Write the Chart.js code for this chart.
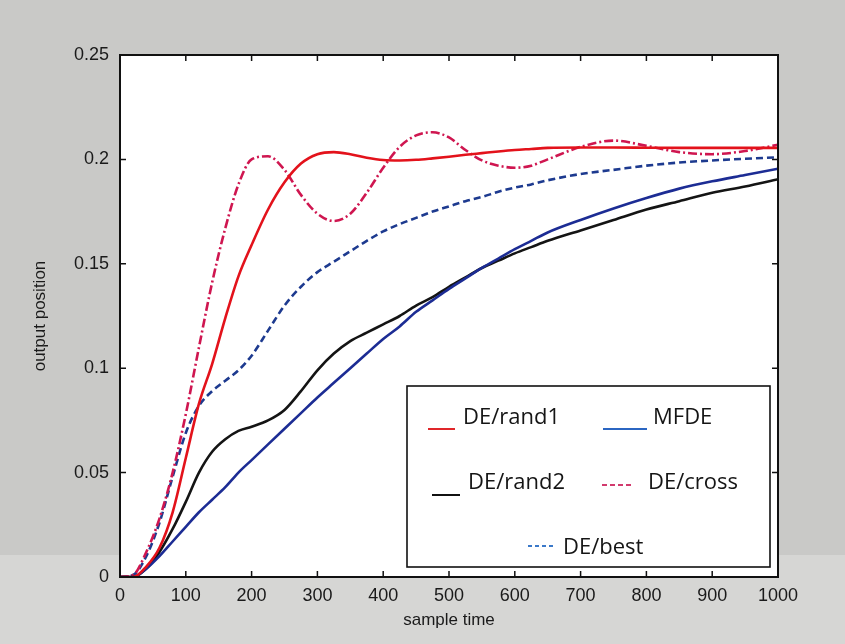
<!DOCTYPE html>
<html>
<head>
<meta charset="utf-8">
<script src="https://cdn.jsdelivr.net/npm/chart.js@4.4.1/dist/chart.umd.min.js"></script>
<style>
  html, body { margin: 0; padding: 0; background: #c9c9c7; }
  #wrap { width: 845px; height: 644px; position: relative; }
</style>
</head>
<body>
<div id="wrap"><canvas id="chart"></canvas></div>
<script>
// sample grid shared by all curves
const sampleTime = [0, 20, 40, 60, 80, 100, 120, 140, 160, 180, 200, 225, 250, 275, 300, 325, 350, 375, 400, 425,
  450, 475, 500, 525, 550, 575, 600, 625, 650, 700, 750, 800, 850, 900, 950, 1000];

const deRand1 = [0, 0, 0.005, 0.014, 0.031, 0.057, 0.083, 0.102, 0.124, 0.144, 0.159, 0.176, 0.189, 0.198, 0.2025, 0.2035,
  0.2025, 0.2008, 0.1997, 0.1995, 0.1998, 0.2005, 0.2013, 0.2022, 0.203, 0.2038, 0.2045, 0.205, 0.2055, 0.2057,
  0.2057, 0.2056, 0.2055, 0.2055, 0.2055, 0.2055];

const mfde = [0, 0, 0.004, 0.01, 0.017, 0.024, 0.031, 0.037, 0.043, 0.05, 0.056, 0.0635, 0.071, 0.0785, 0.086, 0.093,
  0.1, 0.107, 0.114, 0.12, 0.127, 0.1325, 0.138, 0.143, 0.148, 0.1525, 0.157, 0.161, 0.165, 0.171, 0.1765, 0.1815,
  0.186, 0.1895, 0.1925, 0.1955];

const deRand2 = [0, 0, 0.004, 0.012, 0.023, 0.036, 0.05, 0.06, 0.066, 0.07, 0.072, 0.075, 0.08, 0.089, 0.099, 0.107,
  0.113, 0.117, 0.121, 0.125, 0.13, 0.134, 0.139, 0.1435, 0.148, 0.1515, 0.155, 0.158, 0.161, 0.166, 0.171, 0.176,
  0.18, 0.184, 0.187, 0.1905];

const deCross = [0, 0.001, 0.012, 0.028, 0.05, 0.078, 0.11, 0.141, 0.167, 0.188, 0.2, 0.2015, 0.195, 0.183, 0.174, 0.1705,
  0.174, 0.184, 0.196, 0.206, 0.2115, 0.213, 0.2105, 0.2045, 0.1995, 0.197, 0.196, 0.197, 0.2, 0.206, 0.209, 0.2065,
  0.2035, 0.2025, 0.204, 0.207];

const deBest = [0, 0.001, 0.01, 0.026, 0.048, 0.069, 0.082, 0.089, 0.094, 0.099, 0.106, 0.118, 0.13, 0.139, 0.146, 0.151,
  0.156, 0.161, 0.1655, 0.169, 0.172, 0.175, 0.1775, 0.18, 0.182, 0.1845, 0.1865, 0.188, 0.19, 0.193, 0.195, 0.197,
  0.1985, 0.1995, 0.2003, 0.201];

const xTicks = [0, 100, 200, 300, 400, 500, 600, 700, 800, 900, 1000];
const yTicks = [0, 0.05, 0.1, 0.15, 0.2, 0.25];

const toPoints = ys => sampleTime.map((t, i) => ({ x: t, y: ys[i] }));

function line(label, ys, color, dash) {
  return {
    label,
    data: toPoints(ys),
    borderColor: color,
    borderWidth: 2.6,
    borderDash: dash,
    pointRadius: 0,
    fill: false,
    cubicInterpolationMode: 'monotone'
  };
}

// grey paper behind, white plot area
const paper = {
  id: 'paper',
  beforeDraw(chart) {
    const { ctx, chartArea: a } = chart;
    ctx.save();
    ctx.fillStyle = '#c9c9c7';
    ctx.fillRect(0, 0, chart.width, chart.height);
    ctx.fillStyle = '#d6d6d4';
    ctx.fillRect(0, 555, chart.width, chart.height - 555);
    ctx.fillStyle = '#ffffff';
    ctx.fillRect(a.left, a.top, a.right - a.left, a.bottom - a.top);
    ctx.restore();
  }
};

// matlab style frame with inward ticks on all four sides
const frame = {
  id: 'frame',
  afterDatasetsDraw(chart) {
    const { ctx, chartArea: a, scales } = chart;
    const len = 6;
    ctx.save();
    ctx.strokeStyle = '#111';
    ctx.lineWidth = 1.5;
    ctx.beginPath();
    xTicks.forEach(v => {
      const px = scales.x.getPixelForValue(v);
      ctx.moveTo(px, a.bottom); ctx.lineTo(px, a.bottom - len);
      ctx.moveTo(px, a.top); ctx.lineTo(px, a.top + len);
    });
    yTicks.forEach(v => {
      const py = scales.y.getPixelForValue(v);
      ctx.moveTo(a.left, py); ctx.lineTo(a.left + len, py);
      ctx.moveTo(a.right, py); ctx.lineTo(a.right - len, py);
    });
    ctx.stroke();
    ctx.lineWidth = 2;
    ctx.strokeRect(a.left, a.top, a.right - a.left, a.bottom - a.top);
    ctx.restore();
  }
};

// boxed legend inside the plot, like the figure
const legendBox = {
  id: 'legendBox',
  afterDraw(chart) {
    const { ctx } = chart;
    const items = [
      { text: 'DE/rand1', color: '#e0262a', dash: [], x1: 428, x2: 455, ly: 429, tx: 463, ty: 418 },
      { text: 'MFDE', color: '#2b66c2', dash: [], x1: 603, x2: 647, ly: 429, tx: 653, ty: 418 },
      { text: 'DE/rand2', color: '#111', dash: [], x1: 432, x2: 460, ly: 495, tx: 468, ty: 483 },
      { text: 'DE/cross', color: '#d23a6e', dash: [5, 3], x1: 602, x2: 633, ly: 485, tx: 648, ty: 483 },
      { text: 'DE/best', color: '#3b79c9', dash: [4, 3], x1: 528, x2: 553, ly: 546, tx: 563, ty: 548 }
    ];
    ctx.save();
    ctx.fillStyle = '#fff';
    ctx.fillRect(407, 386, 363, 181);
    ctx.strokeStyle = '#111';
    ctx.lineWidth = 1.6;
    ctx.strokeRect(407, 386, 363, 181);
    ctx.font = '22px "Open Sans", sans-serif';
    ctx.textBaseline = 'middle';
    ctx.textAlign = 'left';
    items.forEach(it => {
      ctx.strokeStyle = it.color;
      ctx.lineWidth = 2;
      ctx.setLineDash(it.dash);
      ctx.beginPath();
      ctx.moveTo(it.x1, it.ly);
      ctx.lineTo(it.x2, it.ly);
      ctx.stroke();
      ctx.setLineDash([]);
      ctx.fillStyle = '#151515';
      ctx.fillText(it.text, it.tx, it.ty);
    });
    ctx.restore();
  }
};

new Chart(document.getElementById('chart'), {
  type: 'line',
  data: {
    datasets: [
      line('DE/rand1', deRand1, '#e3121b', []),
      line('MFDE', mfde, '#1c2c94', []),
      line('DE/rand2', deRand2, '#141414', []),
      line('DE/cross', deCross, '#cf1650', [9, 3, 2, 3]),
      line('DE/best', deBest, '#1d3a8f', [7, 4])
    ]
  },
  options: {
    responsive: true,
    maintainAspectRatio: false,
    animation: false,
    layout: { padding: { left: 0, right: 67, top: 55, bottom: 0 } },
    plugins: { legend: { display: false }, tooltip: { enabled: false } },
    scales: {
      x: {
        type: 'linear',
        min: 0,
        max: 1000,
        afterBuildTicks: s => { s.ticks = xTicks.map(v => ({ value: v })); },
        afterFit: s => { s.height = 67; },
        grid: { display: false, drawTicks: false },
        border: { display: false },
        ticks: {
          padding: 8,
          color: '#1a1a1a',
          font: { family: '"Liberation Sans", Arial, sans-serif', size: 18 },
          maxRotation: 0,
          callback: v => String(v)
        },
        title: {
          display: true,
          text: 'sample time',
          color: '#1a1a1a',
          font: { family: '"Liberation Sans", Arial, sans-serif', size: 17 },
          padding: { top: 0, bottom: 13 }
        }
      },
      y: {
        min: 0,
        max: 0.25,
        afterBuildTicks: s => { s.ticks = yTicks.map(v => ({ value: v })); },
        afterFit: s => { s.width = 120; },
        grid: { display: false, drawTicks: false },
        border: { display: false },
        ticks: {
          padding: 11,
          color: '#1a1a1a',
          font: { family: '"Liberation Sans", Arial, sans-serif', size: 18 },
          callback: v => String(v)
        },
        title: {
          display: true,
          text: 'output position',
          color: '#1a1a1a',
          font: { family: '"Liberation Sans", Arial, sans-serif', size: 17 },
          padding: { top: 30, bottom: 0 }
        }
      }
    }
  },
  plugins: [paper, frame, legendBox]
});
</script>
</body>
</html>
